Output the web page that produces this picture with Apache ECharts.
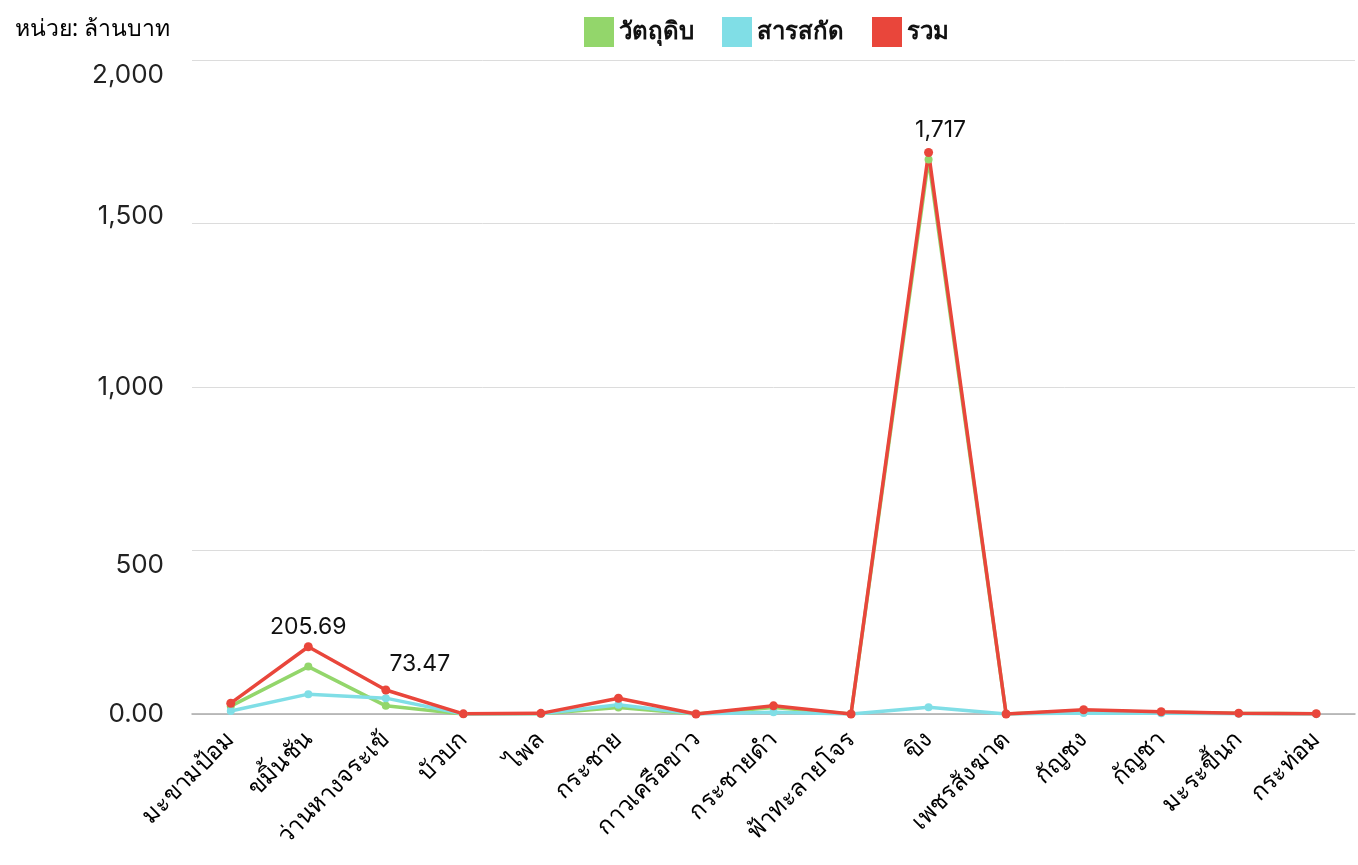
<!DOCTYPE html>
<html>
<head>
<meta charset="utf-8">
<script src="https://cdn.jsdelivr.net/npm/echarts@6/dist/echarts.min.js"></script>
<style>
    html, body { margin: 0; padding: 0; background: #fff; }
    #chart { width: 1358px; height: 865px; }
</style>
</head>
<body>
<div id="chart"></div>
<script>
    var categories = ['มะขามป้อม', 'ขมิ้นชัน', 'ว่านหางจระเข้', 'บัวบก', 'ไพล', 'กระชาย', 'กาวเครือขาว',
        'กระชายดำ', 'ฟ้าทะลายโจร', 'ขิง', 'เพชรสังฆาต', 'กัญชง', 'กัญชา', 'มะระขี้นก', 'กระท่อม'];
    var rawValues = [24, 145, 25, 0.3, 1, 20, 0, 20, 0, 1696, 0, 10, 5, 2, 0.7];
    var extractValues = [9, 60.69, 48.47, 0.2, 1, 28, 0, 5, 0, 21, 0, 3, 2, 0.5, 0.3];
    var totalValues = [33, 205.69, 73.47, 0.5, 2, 48, 0, 25, 0, 1717, 0, 13, 7, 2.5, 1];
    var labelledIndex = [1, 2, 9];
    var yTicks = [0, 500, 1000, 1500, 2000];

    var font = 'Inter, "Noto Sans", sans-serif';
    var thaiFont = '"Noto Sans", "DejaVu Sans", sans-serif';

    function fmt(v) {
        return v.toLocaleString('en-US', {maximumFractionDigits: 2});
    }

    var labelOffsets = {1: [0, 6], 2: [34, 0], 9: [12, 4]};
    var totalData = totalValues.map(function (v, i) {
        if (labelledIndex.indexOf(i) < 0) return v;
        return {
            value: v,
            label: {
                show: true,
                position: 'top',
                distance: 10,
                offset: labelOffsets[i],
                formatter: function (p) { return fmt(p.value); },
                fontSize: 23,
                color: '#111',
                fontFamily: font
            }
        };
    });

    // tick labels in the source sit a little off their grid lines
    var tickShift = {0: 'mid', 500: 'dn', 1000: 'mid', 1500: 'up', 2000: 'dn'};

    var chart = echarts.init(document.getElementById('chart'));
    var option = {
        animation: false,
        title: {
            text: 'หน่วย: ล้านบาท',
            left: 10,
            top: 13,
            textStyle: {fontSize: 23, fontWeight: 'normal', color: '#000', fontFamily: thaiFont}
        },
        legend: {
            left: 579,
            top: 12,
            itemWidth: 30,
            itemHeight: 30,
            itemGap: 28,
            icon: 'rect',
            textStyle: {fontSize: 24, fontWeight: 'bold', color: '#111', fontFamily: thaiFont},
            data: ['วัตถุดิบ', 'สารสกัด', 'รวม']
        },
        grid: {left: 192, right: 3, top: 60, bottom: 151},
        xAxis: {
            type: 'category',
            data: categories,
            boundaryGap: true,
            axisLine: {lineStyle: {color: '#aaa', width: 1.5}},
            axisTick: {show: false},
            axisLabel: {
                interval: 0,
                rotate: 45,
                margin: 22,
                fontSize: 24,
                color: '#000',
                fontFamily: thaiFont
            }
        },
        yAxis: {
            type: 'value',
            min: yTicks[0],
            max: yTicks[yTicks.length - 1],
            interval: 500,
            axisLine: {show: false},
            axisTick: {show: false},
            splitLine: {lineStyle: {color: '#dcdcdc', width: 1}},
            axisLabel: {
                margin: 28,
                fontSize: 26,
                color: '#222',
                fontFamily: font,
                formatter: function (v) {
                    var s = v === 0 ? '0.00' : fmt(v);
                    return '{' + (tickShift[v] || 'mid') + '|' + s + '}';
                },
                rich: {
                    mid: {fontSize: 26, color: '#222', fontFamily: font},
                    dn: {fontSize: 26, color: '#222', fontFamily: font, padding: [30, 0, 0, 0]},
                    up: {fontSize: 26, color: '#222', fontFamily: font, padding: [0, 0, 14, 0]}
                }
            }
        },
        series: [
            {
                name: 'วัตถุดิบ',
                type: 'line',
                data: rawValues,
                symbol: 'circle',
                symbolSize: 8,
                lineStyle: {width: 3.5},
                color: '#93d66b'
            },
            {
                name: 'สารสกัด',
                type: 'line',
                data: extractValues,
                symbol: 'circle',
                symbolSize: 8,
                lineStyle: {width: 3.5},
                color: '#80dee6'
            },
            {
                name: 'รวม',
                type: 'line',
                data: totalData,
                symbol: 'circle',
                symbolSize: 9,
                lineStyle: {width: 3.5},
                color: '#e9463b'
            }
        ]
    };
    chart.setOption(option);
</script>
</body>
</html>
